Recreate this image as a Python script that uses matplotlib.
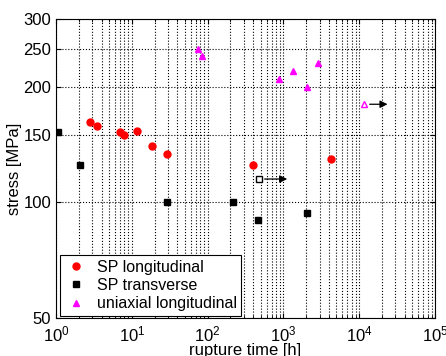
import matplotlib
matplotlib.use('Agg')
import matplotlib.pyplot as plt
from matplotlib.ticker import FixedLocator, FixedFormatter, NullLocator

plt.rcParams['font.family'] = ['Liberation Sans', 'DejaVu Sans']

# small punch (SP) tests, longitudinal direction
sp_long_time = [2.8, 3.5, 7.0, 7.9, 11.7, 18.3, 29.2, 394, 4200]
sp_long_stress = [162, 158, 152, 150, 153.5, 140, 134, 125, 130]

# small punch tests, transverse direction
sp_trans_time = [1.07, 2.07, 28.8, 218, 467, 2050]
sp_trans_stress = [152, 125, 100, 100, 90, 94]

# uniaxial creep tests, longitudinal direction
uni_time = [75, 85, 880, 1350, 2050, 2900]
uni_stress = [250, 241, 210, 220, 200, 230]

# run-outs (not ruptured) with arrow end time
runout_trans = (481, 115, 1220)
runout_uni = (11700, 180, 25700)

y_ticks = [50, 100, 150, 200, 250, 300]

fig = plt.figure(figsize=(4.46, 3.56), dpi=100)
ax = fig.add_axes([0.1256, 0.1067, 0.8498, 0.8399])

ax.set_xscale('log')
ax.set_yscale('log')
ax.set_xlim(1, 1e5)
ax.set_ylim(50, 300)

ax.plot(sp_long_time, sp_long_stress, 'o', color='red', markersize=5, label='SP longitudinal', zorder=3)
ax.plot(sp_trans_time, sp_trans_stress, 's', color='black', markersize=4, label='SP transverse', zorder=3)
ax.plot(uni_time, uni_stress, '^', color='magenta', markersize=5, label='uniaxial longitudinal', zorder=3)

# run-out points drawn open, with an arrow to the right
ax.plot(runout_trans[0], runout_trans[1], 's', mfc='white', mec='black', markersize=4, zorder=3)
ax.plot(runout_uni[0], runout_uni[1], '^', mfc='white', mec='magenta', markersize=5, zorder=3)
for t0, s, t1 in [runout_trans, runout_uni]:
    ax.annotate('', xy=(t1, s), xytext=(t0 * 1.08, s),
                arrowprops=dict(arrowstyle='-|>', color='black', lw=0.9, mutation_scale=11))

ax.yaxis.set_major_locator(FixedLocator(y_ticks))
ax.yaxis.set_major_formatter(FixedFormatter([str(v) for v in y_ticks]))
ax.yaxis.set_minor_locator(NullLocator())

ax.grid(True, axis='y', which='major', linestyle=':', color='black', linewidth=0.8)
ax.grid(True, axis='x', which='both', linestyle=':', color='black', linewidth=0.8)
ax.tick_params(which='both', direction='in', top=True, right=True, labelsize=12)
ax.tick_params(axis='x', pad=5)

ax.set_xlabel('rupture time [h]', fontsize=12, labelpad=-1)
ax.set_ylabel('stress [MPa]', fontsize=12, labelpad=1)

leg = ax.legend(loc='lower left', bbox_to_anchor=(0.01, 0.007), borderaxespad=0,
                fontsize=11.5, fancybox=False, framealpha=1, edgecolor='black',
                handletextpad=0.6, labelspacing=0.2, handlelength=1.4, borderpad=0.3)
leg.get_frame().set_linewidth(0.8)

fig.savefig('out.png', dpi=100)
